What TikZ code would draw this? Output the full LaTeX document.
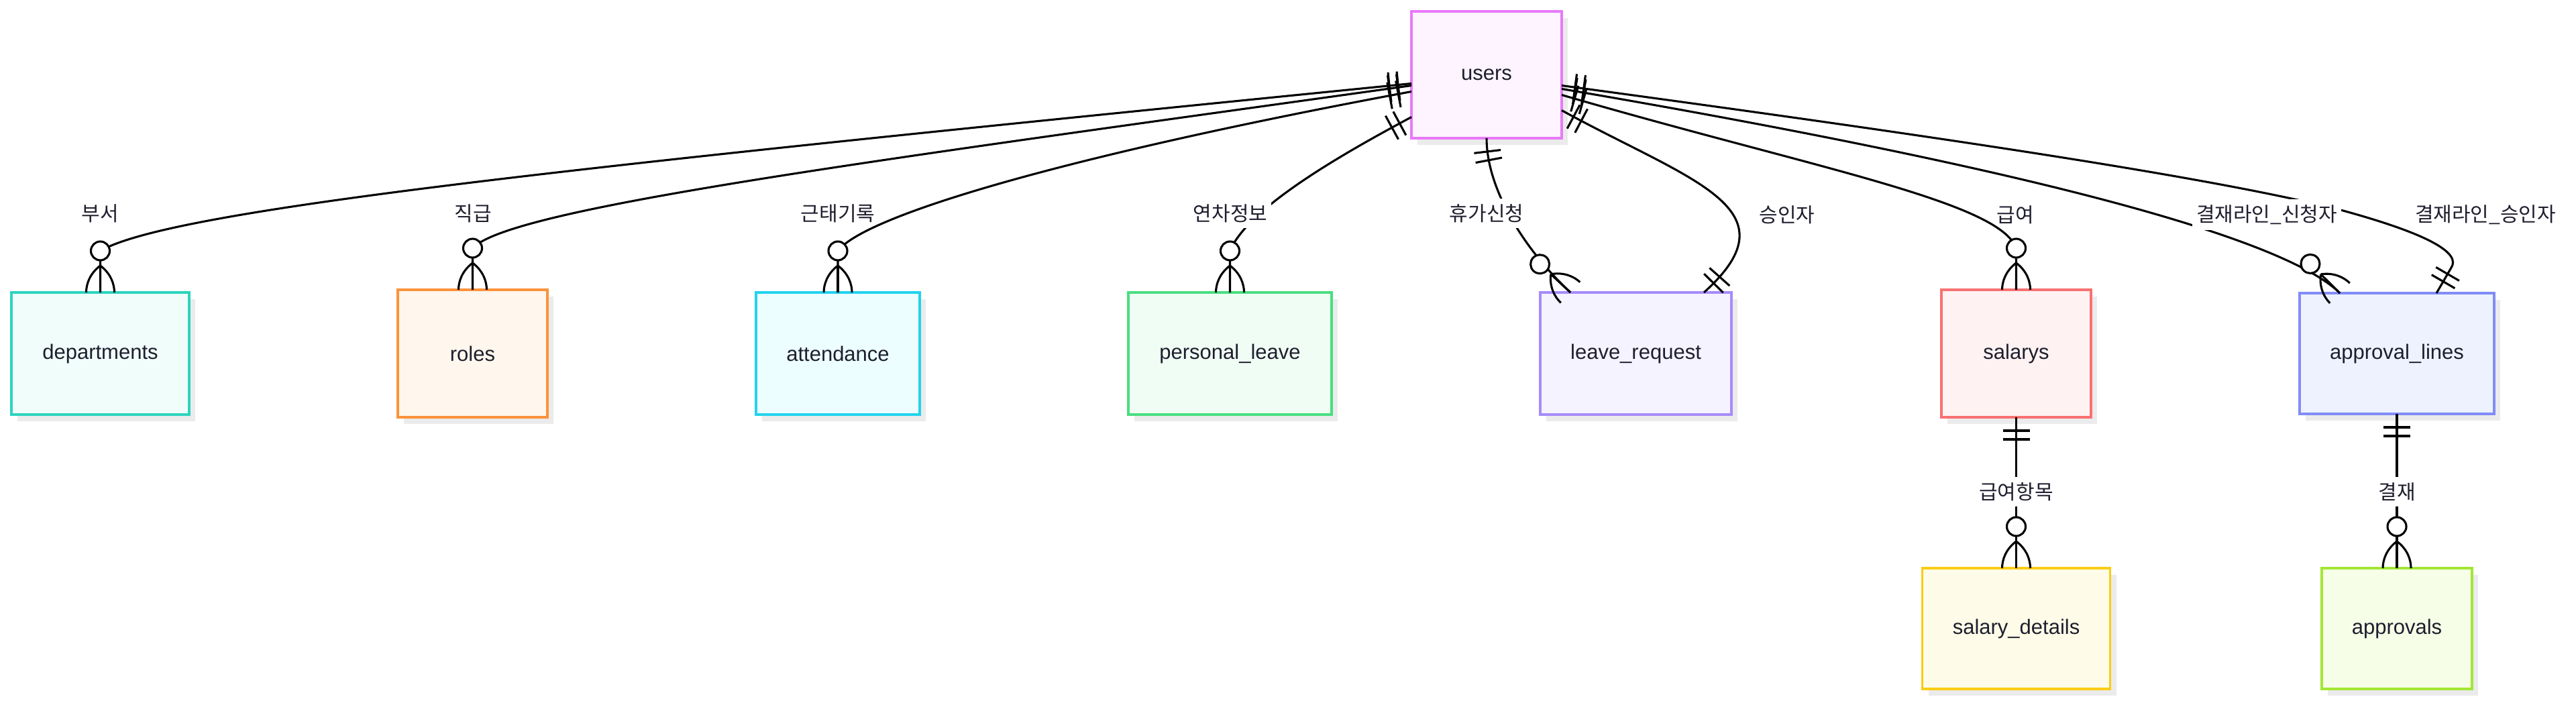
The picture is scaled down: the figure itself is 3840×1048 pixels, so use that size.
\documentclass[tikz,border=0pt]{standalone}
\usepackage{fontspec}
\setmainfont{Liberation Sans}
\newfontfamily\kr{Noto Sans CJK KR}
\usetikzlibrary{calc,decorations.markings,shadows}
\definecolor{txtc}{HTML}{1E1E2E}
\definecolor{shd}{HTML}{EBEBEB}
\definecolor{uB}{HTML}{E879F9}\definecolor{uF}{HTML}{FDF4FF}
\definecolor{dB}{HTML}{2DD4BF}\definecolor{dF}{HTML}{F0FDFA}
\definecolor{rB}{HTML}{FB923C}\definecolor{rF}{HTML}{FFF7ED}
\definecolor{aB}{HTML}{22D3EE}\definecolor{aF}{HTML}{ECFEFF}
\definecolor{pB}{HTML}{4ADE80}\definecolor{pF}{HTML}{F0FDF4}
\definecolor{lB}{HTML}{A78BFA}\definecolor{lF}{HTML}{F5F3FF}
\definecolor{sB}{HTML}{F87171}\definecolor{sF}{HTML}{FEF2F2}
\definecolor{alB}{HTML}{818CF8}\definecolor{alF}{HTML}{EEF2FF}
\definecolor{sdB}{HTML}{FACC15}\definecolor{sdF}{HTML}{FEFCE8}
\definecolor{apB}{HTML}{A3E635}\definecolor{apF}{HTML}{F7FEE7}
\tikzset{
  ent/.style 2 args={draw=#1, fill=#2, line width=3.3pt, outer sep=0pt, inner sep=0pt,
    text=txtc, font=\fontsize{31}{37}\selectfont,
    drop shadow={shadow xshift=9pt, shadow yshift=-10pt, fill=shd, opacity=1, draw=none}},
  conn/.style={line width=3.1pt, black},
  lbl/.style={text=txtc, font=\kr\fontsize{30}{36}\selectfont, inner xsep=6pt, inner ysep=8pt},
  gap/.style={fill=white},
  oneS/.style={postaction={decorate, decoration={markings,
     mark=at position 20pt with {\draw[line width=3.1pt] (0pt,-20pt) -- (0pt,20pt);},
     mark=at position 33pt with {\draw[line width=3.1pt] (0pt,-20pt) -- (0pt,20pt);}}}},
  oneE/.style={postaction={decorate, decoration={markings,
     mark=at position -33pt with {\draw[line width=3.1pt] (0pt,-20pt) -- (0pt,20pt);},
     mark=at position -20pt with {\draw[line width=3.1pt] (0pt,-20pt) -- (0pt,20pt);}}}},
  manyE/.style={postaction={decorate, decoration={markings,
     mark=at position -0.01pt with {
       \draw[line width=3.1pt] (-40pt,0pt) -- (0pt,0pt);
       \draw[line width=3.1pt] (-40pt,0pt) .. controls (-28pt,16pt) and (-12pt,21pt) .. (0pt,21pt);
       \draw[line width=3.1pt] (-40pt,0pt) .. controls (-28pt,-16pt) and (-12pt,-21pt) .. (0pt,-21pt);
       \draw[line width=3.1pt, fill=white] (-62pt,0pt) circle (14pt);}}}}
}
\begin{document}
\begin{tikzpicture}[x=1pt,y=-1pt]
\useasboundingbox (0,0) rectangle (3840,1048);
\fill[white] (0,0) rectangle (3840,1048);
% entities
\node[ent={uB}{uF}, minimum width=224pt, minimum height=189pt] (users) at (2216,111.5) {users};
\node[ent={dB}{dF}, minimum width=265pt, minimum height=182pt] (dep) at (149.5,527) {departments};
\node[ent={rB}{rF}, minimum width=223pt, minimum height=190pt] (rol) at (704.5,527) {roles};
\node[ent={aB}{aF}, minimum width=244pt, minimum height=182pt] (att) at (1249,527) {attendance};
\node[ent={pB}{pF}, minimum width=303pt, minimum height=182pt] (pl) at (1833.5,527) {personal\_leave};
\node[ent={lB}{lF}, minimum width=285pt, minimum height=182pt] (lr) at (2438.5,527) {leave\_request};
\node[ent={sB}{sF}, minimum width=223pt, minimum height=190pt] (sal) at (3005.5,527) {salarys};
\node[ent={alB}{alF}, minimum width=290pt, minimum height=180pt] (al) at (3573,527) {approval\_lines};
\node[ent={sdB}{sdF}, minimum width=280pt, minimum height=180pt] (sd) at (3005.5,937) {salary\_details};
\node[ent={apB}{apF}, minimum width=224pt, minimum height=180pt] (ap) at (3573,937) {approvals};
% attachment points
\coordinate (uL1) at ($(users.west)+(0,13)$);
\coordinate (uL2) at ($(users.west)+(0,16)$);
\coordinate (uL3) at ($(users.west)+(0,25)$);
\coordinate (uL4) at ($(users.west)+(0,63)$);
\coordinate (uR1) at ($(users.east)+(0,16)$);
\coordinate (uR2) at ($(users.east)+(0,21)$);
\coordinate (uR3) at ($(users.east)+(0,30)$);
\coordinate (uR4) at ($(users.east)+(0,53)$);
\coordinate (depC) at ($(dep.north)+(0,-62)$);
\coordinate (rolC) at ($(rol.north)+(0,-62)$);
\coordinate (attC) at ($(att.north)+(0,-62)$);
\coordinate (plC) at ($(pl.north)+(0,-62)$);
\coordinate (salC) at ($(sal.north)+(0,-62)$);
\coordinate (lrA) at ($(lr.north west)+(45,0)$);
\coordinate (lrB) at ($(lr.north west)+(244,0)$);
\coordinate (alA) at ($(al.north west)+(60,0)$);
\coordinate (alB) at ($(al.north west)+(204,0)$);
\coordinate (alM) at (3489,313);
\coordinate (alN) at ($(alB)+(22,-38)$);
% connectors
\draw[conn,oneS,manyE] (uL1) .. controls (900,245) and (260,310) .. (depC) -- (dep.north);
\draw[conn,oneS,manyE] (uL2) .. controls (1300,240) and (760,310) .. (rolC) -- (rol.north);
\draw[conn,oneS,manyE] (uL3) .. controls (1600,230) and (1290,320) .. (attC) -- (att.north);
\draw[conn,oneS,manyE] (uL4) .. controls (2000,230) and (1860,310) .. (plC) -- (pl.north);
\draw[conn,oneS,manyE] (users.south) .. controls (2216,280) and (2270,370) .. (lrA);
\draw[conn,oneS,oneE] (uR4) .. controls (2520,270) and (2680,310) .. (lrB);
\draw[conn,oneS,manyE] (uR3) .. controls (2700,250) and (2980,300) .. (salC) -- (sal.north);
\draw[conn,oneS,manyE] (uR2) .. controls (2900,230) and (3390,340) .. (alA);
\draw[conn,oneS,oneE] (uR1) .. controls (2900,205) and (3300,265) .. (alM) .. controls (3625,350) and (3668,378) .. (alN) -- (alB);
\draw[conn,oneS,manyE] (sal.south) -- (sd.north);
\draw[conn,oneS,manyE] (al.south) -- (ap.north);
% labels
\node[lbl] (t1) at (149,318) {부서};
\node[lbl] (t2) at (705,318) {직급};
\node[lbl] (t3) at (1249,318) {근태기록};
\node[lbl,gap] (t4) at (1834,318) {연차정보};
\node[lbl,gap] (t5) at (2216,318) {휴가신청};
\node[lbl] (t6) at (2664,320) {승인자};
\node[lbl] (t7) at (3004,320) {급여};
\node[lbl,gap] (t8) at (3379,320) {결재라인\_신청자};
\node[lbl] (t9) at (3705,320) {결재라인\_승인자};
\node[lbl,gap] (t10) at (3005.5,733) {급여항목};
\node[lbl,gap] (t11) at (3573,733) {결재};
\end{tikzpicture}
\end{document}
